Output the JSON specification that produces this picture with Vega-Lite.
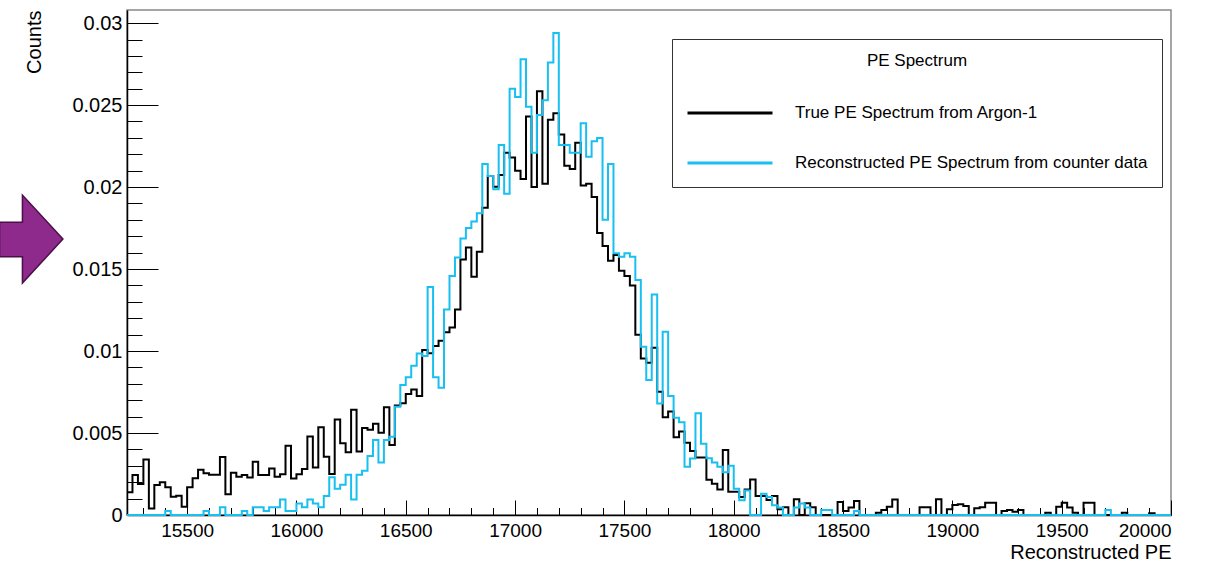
{
"$schema": "https://vega.github.io/schema/vega-lite/v6.json",
"width": 1044, "height": 505,
"autosize": "none",
"padding": {"left": 127, "top": 10, "right": 47, "bottom": 46},
"background": "white",
"config": {
 "view": {"stroke": "#888888", "strokeWidth": 1.5},
 "font": "Liberation Sans",
 "axis": {"labelFont": "Liberation Sans", "titleFont": "Liberation Sans", "labelColor": "#000", "titleColor": "#000", "tickColor": "#000", "domainColor": "#000", "domainWidth": 1.5, "grid": false, "titleFontWeight": "normal", "labelFontSize": 20, "titleFontSize": 20, "tickWidth": 1}
},
"datasets": {
 "hist": [
{"PE":15225,"True":0.00138,"Reco":0},{"PE":15250,"True":0.00244,"Reco":0},{"PE":15275,"True":0.00189,"Reco":0},{"PE":15300,"True":0.00339,"Reco":0},{"PE":15325,"True":0.00039,"Reco":0},{"PE":15350,"True":0.00183,"Reco":0},{"PE":15375,"True":0.00199,"Reco":0},{"PE":15400,"True":0.00169,"Reco":0.00024},{"PE":15425,"True":0.00112,"Reco":0},{"PE":15450,"True":0.00118,"Reco":0},
{"PE":15475,"True":0.00051,"Reco":0},{"PE":15500,"True":0.0017,"Reco":0},{"PE":15525,"True":0.00224,"Reco":0},{"PE":15550,"True":0.00276,"Reco":0},{"PE":15575,"True":0.00255,"Reco":0.00024},{"PE":15600,"True":0.00245,"Reco":0},{"PE":15625,"True":0.00245,"Reco":0},{"PE":15650,"True":0.00354,"Reco":0.00047},{"PE":15675,"True":0.00127,"Reco":0},{"PE":15700,"True":0.00258,"Reco":0},
{"PE":15725,"True":0.00234,"Reco":0},{"PE":15750,"True":0.00244,"Reco":0.00024},{"PE":15775,"True":0.00228,"Reco":0},{"PE":15800,"True":0.00325,"Reco":0.00047},{"PE":15825,"True":0.00244,"Reco":0.00047},{"PE":15850,"True":0.00244,"Reco":0.00024},{"PE":15875,"True":0.00284,"Reco":0.00047},{"PE":15900,"True":0.00234,"Reco":0.00047},{"PE":15925,"True":0.00248,"Reco":0.00094},{"PE":15950,"True":0.00422,"Reco":0.00024},
{"PE":15975,"True":0.00222,"Reco":0.00024},{"PE":16000,"True":0.00248,"Reco":0.0007},{"PE":16025,"True":0.0028,"Reco":0.00047},{"PE":16050,"True":0.00479,"Reco":0.00094},{"PE":16075,"True":0.0029,"Reco":0.0007},{"PE":16100,"True":0.00535,"Reco":0.00047},{"PE":16125,"True":0.00356,"Reco":0.00116},{"PE":16150,"True":0.0025,"Reco":0.0023},{"PE":16175,"True":0.00583,"Reco":0.0016},{"PE":16200,"True":0.00437,"Reco":0.00185},
{"PE":16225,"True":0.00382,"Reco":0.00245},{"PE":16250,"True":0.00642,"Reco":0.00094},{"PE":16275,"True":0.00388,"Reco":0.00245},{"PE":16300,"True":0.0053,"Reco":0.0027},{"PE":16325,"True":0.0052,"Reco":0.0036},{"PE":16350,"True":0.00557,"Reco":0.00457},{"PE":16375,"True":0.00502,"Reco":0.0032},{"PE":16400,"True":0.00657,"Reco":0.00457},{"PE":16425,"True":0.00427,"Reco":0.00478},{"PE":16450,"True":0.00668,"Reco":0.0066},
{"PE":16475,"True":0.00682,"Reco":0.00793},{"PE":16500,"True":0.00738,"Reco":0.0084},{"PE":16525,"True":0.00766,"Reco":0.0091},{"PE":16550,"True":0.00726,"Reco":0.00985},{"PE":16575,"True":0.01006,"Reco":0.0097},{"PE":16600,"True":0.00986,"Reco":0.0139},{"PE":16625,"True":0.0103,"Reco":0.0084},{"PE":16650,"True":0.01063,"Reco":0.00776},{"PE":16675,"True":0.01114,"Reco":0.01254},{"PE":16700,"True":0.01144,"Reco":0.01457},
{"PE":16725,"True":0.01254,"Reco":0.0157},{"PE":16750,"True":0.01559,"Reco":0.01687},{"PE":16775,"True":0.01632,"Reco":0.0175},{"PE":16800,"True":0.01453,"Reco":0.0179},{"PE":16825,"True":0.01606,"Reco":0.0184},{"PE":16850,"True":0.01874,"Reco":0.0214},{"PE":16875,"True":0.02067,"Reco":0.02067},{"PE":16900,"True":0.02002,"Reco":0.01986},{"PE":16925,"True":0.02073,"Reco":0.02256},{"PE":16950,"True":0.0221,"Reco":0.0196},
{"PE":16975,"True":0.0218,"Reco":0.026},{"PE":17000,"True":0.021,"Reco":0.0255},{"PE":17025,"True":0.0205,"Reco":0.0278},{"PE":17050,"True":0.0243,"Reco":0.0249},{"PE":17075,"True":0.02,"Reco":0.0221},{"PE":17100,"True":0.02585,"Reco":0.0244},{"PE":17125,"True":0.0202,"Reco":0.0253},{"PE":17150,"True":0.0241,"Reco":0.0276},{"PE":17175,"True":0.0245,"Reco":0.0294},{"PE":17200,"True":0.0232,"Reco":0.02256},
{"PE":17225,"True":0.0213,"Reco":0.02256},{"PE":17250,"True":0.0211,"Reco":0.0221},{"PE":17275,"True":0.0227,"Reco":0.0221},{"PE":17300,"True":0.0201,"Reco":0.0239},{"PE":17325,"True":0.0202,"Reco":0.02185},{"PE":17350,"True":0.0194,"Reco":0.0228},{"PE":17375,"True":0.0172,"Reco":0.023},{"PE":17400,"True":0.0164,"Reco":0.018},{"PE":17425,"True":0.0155,"Reco":0.0214},{"PE":17450,"True":0.01585,"Reco":0.01596},
{"PE":17475,"True":0.0149,"Reco":0.01575},{"PE":17500,"True":0.01457,"Reco":0.01596},{"PE":17525,"True":0.014,"Reco":0.01575},{"PE":17550,"True":0.011,"Reco":0.01433},{"PE":17575,"True":0.00955,"Reco":0.01026},{"PE":17600,"True":0.00929,"Reco":0.00823},{"PE":17625,"True":0.0102,"Reco":0.01345},{"PE":17650,"True":0.00752,"Reco":0.0068},{"PE":17675,"True":0.00596,"Reco":0.01118},{"PE":17700,"True":0.00632,"Reco":0.00726},
{"PE":17725,"True":0.00474,"Reco":0.00593},{"PE":17750,"True":0.0051,"Reco":0.00565},{"PE":17775,"True":0.0044,"Reco":0.00295},{"PE":17800,"True":0.0039,"Reco":0.00345},{"PE":17825,"True":0.0035,"Reco":0.0062},{"PE":17850,"True":0.0035,"Reco":0.00435},{"PE":17875,"True":0.00215,"Reco":0.00346},{"PE":17900,"True":0.0019,"Reco":0.0032},{"PE":17925,"True":0.00156,"Reco":0.00295},{"PE":17950,"True":0.00396,"Reco":0.0026},
{"PE":17975,"True":0.00142,"Reco":0.003},{"PE":18000,"True":0.00142,"Reco":0.0016},{"PE":18025,"True":0.0011,"Reco":0.0009},{"PE":18050,"True":0.00156,"Reco":0.0015},{"PE":18075,"True":0.00217,"Reco":0},{"PE":18100,"True":0.00116,"Reco":0},{"PE":18125,"True":0.00116,"Reco":0.0013},{"PE":18150,"True":0.00091,"Reco":0.0011},{"PE":18175,"True":0.00116,"Reco":0.0006},{"PE":18200,"True":0.00035,"Reco":0.00045},
{"PE":18225,"True":0.00047,"Reco":0},{"PE":18250,"True":0,"Reco":0},{"PE":18275,"True":0.00096,"Reco":0.00045},{"PE":18300,"True":0,"Reco":0.0007},{"PE":18325,"True":0.00071,"Reco":0.00045},{"PE":18350,"True":0.00047,"Reco":0},{"PE":18375,"True":0,"Reco":0},{"PE":18400,"True":0,"Reco":0.0003},{"PE":18425,"True":0,"Reco":0.0003},{"PE":18450,"True":0,"Reco":0},
{"PE":18475,"True":0.0008,"Reco":0},{"PE":18500,"True":0.00025,"Reco":0},{"PE":18525,"True":0.00045,"Reco":0},{"PE":18550,"True":0.00085,"Reco":0.00024},{"PE":18575,"True":0,"Reco":0},{"PE":18600,"True":0,"Reco":0},{"PE":18625,"True":0,"Reco":0},{"PE":18650,"True":0.00014,"Reco":0},{"PE":18675,"True":0.0003,"Reco":0},{"PE":18700,"True":0.0005,"Reco":0},
{"PE":18725,"True":0.00095,"Reco":0},{"PE":18750,"True":0,"Reco":0},{"PE":18775,"True":0,"Reco":0},{"PE":18800,"True":0,"Reco":0},{"PE":18825,"True":0,"Reco":0},{"PE":18850,"True":0.00047,"Reco":0},{"PE":18875,"True":0.00047,"Reco":0},{"PE":18900,"True":0,"Reco":0},{"PE":18925,"True":0.00096,"Reco":0},{"PE":18950,"True":0,"Reco":0},
{"PE":18975,"True":0.00035,"Reco":0},{"PE":19000,"True":0.00061,"Reco":0},{"PE":19025,"True":0.00065,"Reco":0},{"PE":19050,"True":0.00055,"Reco":0},{"PE":19075,"True":0,"Reco":0},{"PE":19100,"True":0.00041,"Reco":0},{"PE":19125,"True":0.00047,"Reco":0},{"PE":19150,"True":0.00075,"Reco":0},{"PE":19175,"True":0.00075,"Reco":0},{"PE":19200,"True":0,"Reco":0},
{"PE":19225,"True":0.00024,"Reco":0},{"PE":19250,"True":0.0003,"Reco":0},{"PE":19275,"True":0.0002,"Reco":0},{"PE":19300,"True":0.0003,"Reco":0},{"PE":19325,"True":0,"Reco":0},{"PE":19350,"True":0,"Reco":0},{"PE":19375,"True":0,"Reco":0},{"PE":19400,"True":0,"Reco":0},{"PE":19425,"True":0.00014,"Reco":0},{"PE":19450,"True":0,"Reco":0},
{"PE":19475,"True":0.0005,"Reco":0},{"PE":19500,"True":0.00075,"Reco":0},{"PE":19525,"True":0.00045,"Reco":0},{"PE":19550,"True":0.00014,"Reco":0},{"PE":19575,"True":0,"Reco":0},{"PE":19600,"True":0.00075,"Reco":0},{"PE":19625,"True":0.00075,"Reco":0},{"PE":19650,"True":0,"Reco":0},{"PE":19675,"True":0,"Reco":0},{"PE":19700,"True":0,"Reco":0.0003},
{"PE":19725,"True":0,"Reco":0},{"PE":19750,"True":0,"Reco":0},{"PE":19775,"True":0.00014,"Reco":0},{"PE":19800,"True":0,"Reco":0},{"PE":19825,"True":0,"Reco":0},{"PE":19850,"True":0,"Reco":0},{"PE":19875,"True":0,"Reco":0},{"PE":19900,"True":0.0001,"Reco":0},{"PE":19925,"True":0,"Reco":0},{"PE":19950,"True":0,"Reco":0},
{"PE":19975,"True":0,"Reco":0},{"PE":20000,"True":0,"Reco":0}
 ],
 "arrow": [{"PE": 14787, "Counts": 0.01683}]
},
"layer": [
 {
  "data": {"name": "hist"},
  "layer": [
   {
    "mark": {"type": "line", "interpolate": "step-after", "strokeWidth": 2},
    "encoding": {
     "x": {"field": "PE", "type": "quantitative", "scale": {"domain": [15225, 20000], "nice": false, "zero": false},
       "title": "Reconstructed PE",
       "axis": {"orient": "bottom", "values": [15500,16000,16500,17000,17500,18000,18500,19000,19500,20000], "format": "d", "tickSize": -15, "labelPadding": 21, "labelFontSize": 19, "titleAnchor": "end", "titleAlign": "right", "titleX": 1044, "titleY": 43, "titleBaseline": "alphabetic"}},
     "y": {"field": "True", "type": "quantitative", "scale": {"domain": [0, 0.0308], "nice": false},
       "title": "Counts",
       "axis": {"orient": "left", "values": [0,0.005,0.01,0.015,0.02,0.025,0.03], "format": ".3~f", "tickSize": -31, "labelPadding": 36, "titleAngle": -90, "titleAlign": "right", "titleX": -87, "titleY": 0, "titleBaseline": "alphabetic"}},
     "color": {"datum": "True PE Spectrum from Argon-1", "type": "nominal", "title": "PE Spectrum",
       "scale": {"domain": ["True PE Spectrum from Argon-1", "Reconstructed PE Spectrum from counter data"], "range": ["#000000", "#17c0f0"]},
       "legend": {"orient": "none", "legendX": 545, "legendY": 29, "strokeColor": "#333333", "fillColor": "#ffffff", "padding": 14, "titleAnchor": "middle", "titleFont": "Liberation Sans", "titleFontSize": 17, "titleFontWeight": "normal", "titleColor": "#000", "titlePadding": 33, "labelFont": "Liberation Sans", "labelFontSize": 17, "labelColor": "#000", "labelLimit": 600, "labelOffset": 21, "symbolType": "stroke", "symbolSize": 7225, "symbolStrokeWidth": 3, "clipHeight": 20, "rowPadding": 30}}
    }
   },
   {
    "mark": {"type": "line", "interpolate": "step-after", "strokeWidth": 2},
    "encoding": {
     "x": {"field": "PE", "type": "quantitative", "title": "Reconstructed PE"},
     "y": {"field": "Reco", "type": "quantitative", "title": "Counts"},
     "color": {"datum": "Reconstructed PE Spectrum from counter data", "type": "nominal", "title": "PE Spectrum"}
    }
   }
  ]
 },
 {
  "data": {"name": "arrow"},
  "mark": {"type": "point", "shape": "M-0.72,-0.38L-0.2,-0.38L-0.2,-1L0.72,0L-0.2,1L-0.2,0.4L-0.72,0.4Z", "size": 7744, "filled": true, "fill": "#8e2a8c", "stroke": "#4b0f4a", "strokeWidth": 1.5, "opacity": 1},
  "encoding": {
   "x": {"field": "PE", "type": "quantitative", "title": null,
     "axis": {"orient": "bottom", "labels": false, "domain": false, "title": null, "tickSize": -7.5,
       "values": [15300,15400,15600,15700,15800,15900,16100,16200,16300,16400,16600,16700,16800,16900,17100,17200,17300,17400,17600,17700,17800,17900,18100,18200,18300,18400,18600,18700,18800,18900,19100,19200,19300,19400,19600,19700,19800,19900]}},
   "y": {"field": "Counts", "type": "quantitative", "title": null,
     "axis": {"orient": "left", "labels": false, "domain": false, "title": null, "tickSize": -15,
       "values": [0.001,0.002,0.003,0.004,0.006,0.007,0.008,0.009,0.011,0.012,0.013,0.014,0.016,0.017,0.018,0.019,0.021,0.022,0.023,0.024,0.026,0.027,0.028,0.029]}}
  }
 }
],
"resolve": {"axis": {"x": "independent", "y": "independent"}}
}
